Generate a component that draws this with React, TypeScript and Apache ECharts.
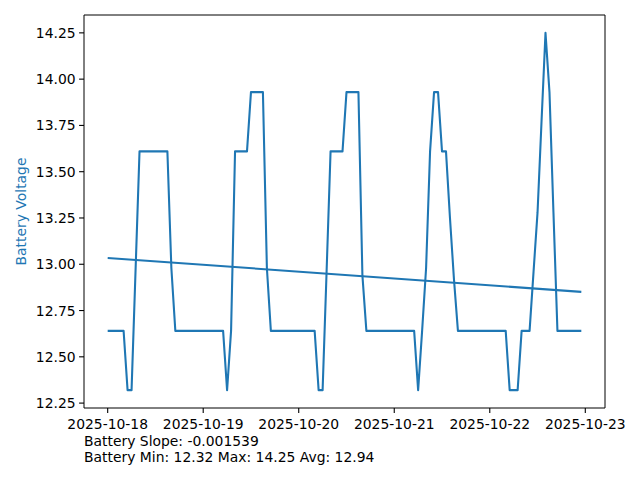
import React, { useEffect, useRef } from "react";
import * as echarts from "echarts";

// Hours since 2025-10-18 00:00 and battery voltage at each vertex of the trace
const hours = [0, 4, 5, 6, 8, 15, 16, 17, 29, 30, 31, 32, 35, 36, 39, 40, 41, 52, 53, 54, 55, 56, 59, 60, 63, 64, 65, 77, 78, 79, 80, 81, 82, 83, 84, 85, 86, 87, 88, 100, 101, 103, 104, 106, 107, 108, 109, 110, 111, 112, 113, 119];
const voltages = [12.64, 12.64, 12.32, 12.32, 13.61, 13.61, 12.98, 12.64, 12.64, 12.32, 12.64, 13.61, 13.61, 13.93, 13.93, 12.98, 12.64, 12.64, 12.32, 12.32, 12.96, 13.61, 13.61, 13.93, 13.93, 12.94, 12.64, 12.64, 12.32, 12.64, 12.98, 13.61, 13.93, 13.93, 13.61, 13.61, 13.25, 12.92, 12.64, 12.64, 12.32, 12.32, 12.64, 12.64, 12.96, 13.28, 13.77, 14.25, 13.93, 13.28, 12.64, 12.64];

// Trend line (linear fit) endpoints
const trendHours = [0, 119];
const trendValues = [13.034, 12.851];

// Axes
const yTicks = [12.25, 12.5, 12.75, 13.0, 13.25, 13.5, 13.75, 14.0, 14.25];
const yTickLabels = ["12.25", "12.50", "12.75", "13.00", "13.25", "13.50", "13.75", "14.00", "14.25"];
const xTicks = [0, 24, 48, 72, 96, 120];
const xTickLabels = ["2025-10-18", "2025-10-19", "2025-10-20", "2025-10-21", "2025-10-22", "2025-10-23"];
const yAxisTitle = "Battery Voltage";
const statLines = ["Battery Slope: -0.001539", "Battery Min: 12.32 Max: 14.25 Avg: 12.94"];

const FONT = '"DejaVu Sans", sans-serif';
const FS = 13.9;
const BLUE = "#1f77b4";

export default function App() {
  const ref = useRef<HTMLDivElement>(null);
  useEffect(() => {
    if (!ref.current) return;
    const chart = echarts.init(ref.current, null, { renderer: "svg" });
    const xSpan = trendHours[1] - trendHours[0];
    const xMin = trendHours[0] - xSpan * 0.05;
    const xMax = trendHours[1] + xSpan * 0.05;
    const vMin = Math.min(...voltages);
    const vMax = Math.max(...voltages);
    const ySpan = vMax - vMin;
    const yMin = vMin - ySpan * 0.05;
    const yMax = vMax + ySpan * 0.05;

    chart.setOption({
      animation: false,
      backgroundColor: "#fff",
      grid: {
        left: 84,
        top: 15,
        width: 521,
        height: 393,
        show: true,
        borderColor: "#000",
        borderWidth: 1,
        backgroundColor: "#fff",
      },
      xAxis: {
        type: "value",
        min: xMin,
        max: xMax,
        axisLine: { show: false },
        axisTick: { show: false },
        axisLabel: { show: false },
        splitLine: { show: false },
      },
      yAxis: {
        type: "value",
        min: yMin,
        max: yMax,
        axisLine: { show: false },
        axisTick: { show: false },
        axisLabel: { show: false },
        splitLine: { show: false },
      },
      graphic: [
        {
          type: "text",
          x: 21,
          y: 211.5,
          rotation: Math.PI / 2,
          style: {
            text: yAxisTitle,
            fill: BLUE,
            font: `${FS}px ${FONT}`,
            align: "center",
            verticalAlign: "middle",
          },
        },
        ...statLines.map((s, i) => ({
          type: "text",
          x: 84,
          y: 441 + i * 16,
          style: {
            text: s,
            fill: "#000",
            font: `${FS}px ${FONT}`,
            align: "left",
            verticalAlign: "middle",
          },
        })),
      ],
      series: [
        {
          type: "line",
          data: hours.map((h, i) => [h, voltages[i]]),
          showSymbol: false,
          lineStyle: { color: BLUE, width: 2.08, join: "round" },
          itemStyle: { color: BLUE },
          z: 3,
        },
        {
          type: "line",
          data: trendHours.map((h, i) => [h, trendValues[i]]),
          showSymbol: false,
          lineStyle: { color: BLUE, width: 2.08 },
          itemStyle: { color: BLUE },
          z: 3,
        },
        {
          type: "custom",
          clip: false,
          silent: true,
          data: yTicks.map((v) => [xMin, v]),
          renderItem: (params: any, api: any) => {
            const p = api.coord([api.value(0), api.value(1)]);
            return {
              type: "group",
              children: [
                {
                  type: "line",
                  shape: { x1: p[0] - 4.9, y1: p[1], x2: p[0], y2: p[1] },
                  style: { stroke: "#000", lineWidth: 1.1 },
                },
                {
                  type: "text",
                  style: {
                    text: yTickLabels[params.dataIndex],
                    x: p[0] - 8.4,
                    y: p[1],
                    align: "right",
                    verticalAlign: "middle",
                    font: `${FS}px ${FONT}`,
                    fill: "#000",
                  },
                },
              ],
            };
          },
        },
        {
          type: "custom",
          clip: false,
          silent: true,
          data: xTicks.map((h) => [h, yMin]),
          renderItem: (params: any, api: any) => {
            const p = api.coord([api.value(0), api.value(1)]);
            return {
              type: "group",
              children: [
                {
                  type: "line",
                  shape: { x1: p[0], y1: p[1], x2: p[0], y2: p[1] + 4.9 },
                  style: { stroke: "#000", lineWidth: 1.1 },
                },
                {
                  type: "text",
                  style: {
                    text: xTickLabels[params.dataIndex],
                    x: p[0],
                    y: p[1] + 8.6,
                    align: "center",
                    verticalAlign: "top",
                    font: `${FS}px ${FONT}`,
                    fill: "#000",
                  },
                },
              ],
            };
          },
        },
      ],
    });
    return () => chart.dispose();
  }, []);
  return (
    <div
      ref={ref}
      style={{ position: "fixed", left: 0, top: 0, width: 640, height: 480, background: "#fff" }}
    />
  );
}
